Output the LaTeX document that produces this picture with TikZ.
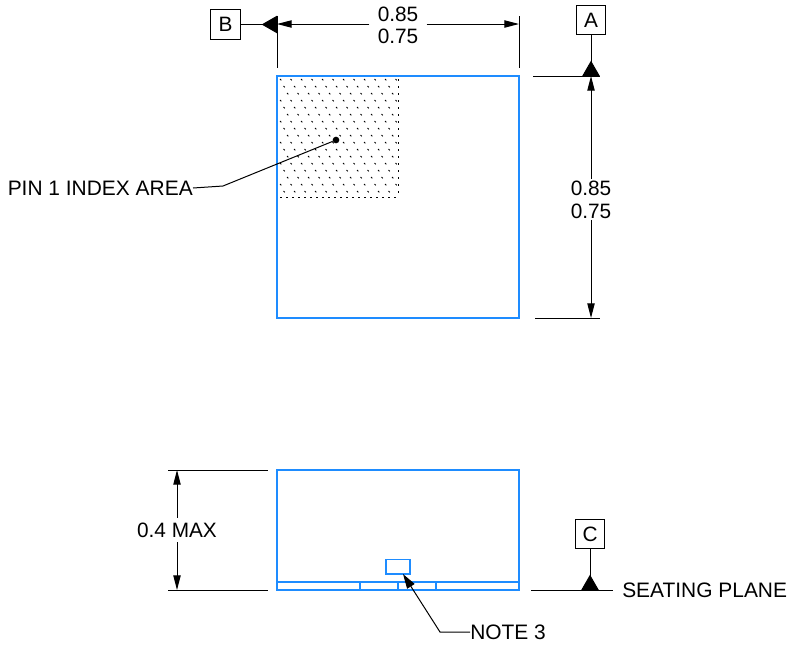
\documentclass[tikz,border=0pt]{standalone}
\usepackage{fontspec}
\setmainfont{Liberation Sans}
\usetikzlibrary{arrows.meta}
\definecolor{outline}{HTML}{1E8CFF}
\tikzset{
	body/.style={draw=outline, line width=1pt, inner sep=0pt},
	datumbox/.style={draw=black, line width=0.6pt, minimum size=22pt, inner sep=0pt, font=\fontsize{15.6}{17}\selectfont},
	dimtext/.style={inner sep=0pt, font=\fontsize{15.7}{17}\selectfont},
	dimpair/.style={align=center, inner xsep=6pt, inner ysep=1pt, font=\fontsize{15.6}{17}\selectfont},
	dimsingle/.style={inner xsep=6pt, inner ysep=3.5pt, font=\fontsize{15.6}{17}\selectfont},
	dimline/.style={draw=black, line width=0.75pt},
	dimarrow/.style={dimline, -{Triangle[length=11pt,width=5.5pt]}},
	datumarrow/.style={dimline, -{Triangle[reversed,length=11.5pt,width=13pt]}},
}

\begin{document}
\begin{tikzpicture}[x=0.75pt, y=-0.75pt]
	\useasboundingbox (0,0) rectangle (791,644);

	%top view
	\node[body, minimum width=181.5pt, minimum height=181.5pt] (top) at (398,197) {};
	\foreach \row in {0,...,16} {
		\pgfmathsetmacro{\shift}{mod(\row,3)*3.5}
		\pgfmathsetmacro{\doty}{79+7*\row}
		\foreach \col in {0,...,11} {
			\pgfmathsetmacro{\dotx}{280+\shift+10.5*\col}
			\ifdim \dotx pt<397pt
				\draw[line width=0.6pt] (\dotx,\doty) -- ++(1.3,1.3);
			\fi
		}
		\draw[line width=0.7pt] (398,\doty) -- ++(0,1.6);
	}
	\foreach \col in {0,...,19} {
		\draw[line width=0.6pt] (280+6*\col,197) -- ++(1.5,0);
	}

	%side view
	\node[body, minimum width=181.5pt, minimum height=90pt] (side) at (398,530) {};
	\coordinate (stripL) at (277,582);
	\coordinate (stripR) at (519,582);
	\draw[body] (stripL) -- (stripR);
	\foreach \tick in {360,398,436} {
		\draw[body] (\tick,582) -- (\tick,590);
	}
	\node[body, minimum width=18pt, minimum height=11pt] (note) at (398,566.5) {};

	%datums
	\node[datumbox] (B) at (225.5,24.5) {B};
	\node[datumbox] (A) at (591,20) {A};
	\node[datumbox] (C) at (590,534) {C};
	\coordinate (Btip) at (277,24.5);
	\coordinate (Atip) at (591,76);
	\coordinate (Ctip) at (590,590);
	\path[datumarrow] (B) -- (Btip);
	\path[datumarrow] (A) -- (Atip);
	\path[datumarrow] (C) -- (Ctip);

	%width dimension
	\node[dimpair] (wtext) at (398,25.5) {0.85\\0.75};
	\coordinate (wL) at (277,24);
	\coordinate (wR) at (519,24);
	\path[dimarrow] (wtext.west |- wL) -- (wL);
	\path[dimarrow] (wtext.east |- wR) -- (wR);
	\coordinate (wL1) at (277,16);
	\coordinate (wL2) at (277,68);
	\coordinate (wR1) at (519,16);
	\coordinate (wR2) at (519,68);
	\path[dimline] (wL1) -- (wL2);
	\path[dimline] (wR1) -- (wR2);

	%height dimension
	\node[dimpair] (htext) at (591,199.5) {0.85\\0.75};
	\coordinate (hT) at (591,76);
	\coordinate (hB) at (591,318);
	\path[dimarrow] (htext) -- (hT);
	\path[dimarrow] (htext) -- (hB);
	\coordinate (hT1) at (533,76);
	\coordinate (hT2) at (600,76);
	\coordinate (hB1) at (535,318);
	\coordinate (hB2) at (600,318);
	\path[dimline] (hT1) -- (hT2);
	\path[dimline] (hB1) -- (hB2);

	%thickness dimension
	\node[dimsingle] (ttext) at (177,530) {0.4 MAX};
	\coordinate (tT) at (177,470);
	\coordinate (tB) at (177,590);
	\path[dimarrow] (ttext) -- (tT);
	\path[dimarrow] (ttext) -- (tB);
	\coordinate (tT1) at (168,470);
	\coordinate (tT2) at (268,470);
	\coordinate (tB1) at (168,590);
	\coordinate (tB2) at (268,590);
	\path[dimline] (tT1) -- (tT2);
	\path[dimline] (tB1) -- (tB2);
	\coordinate (seat1) at (531,590);
	\coordinate (seat2) at (613,590);
	\path[dimline] (seat1) -- (seat2);
	\node[dimtext, anchor=west] (seat) at (622,590) {SEATING PLANE};

	%leaders
	\node[dimtext, anchor=east] (pin) at (193,188) {PIN 1 INDEX AREA};
	\node[circle, fill=black, inner sep=0pt, minimum size=5pt] (pindot) at (336,140) {};
	\coordinate (pinknee) at (223,186);
	\path[dimline] (pin.east) -- (pinknee) -- (pindot);
	\node[dimtext, anchor=west] (n3) at (470,632) {NOTE 3};
	\coordinate (n3knee) at (440,632);
	\coordinate (n3tip) at (403,574);
	\path[dimline, -{Triangle[length=11pt,width=6.5pt]}] (n3.west) -- (n3knee) -- (n3tip);
\end{tikzpicture}
\end{document}
